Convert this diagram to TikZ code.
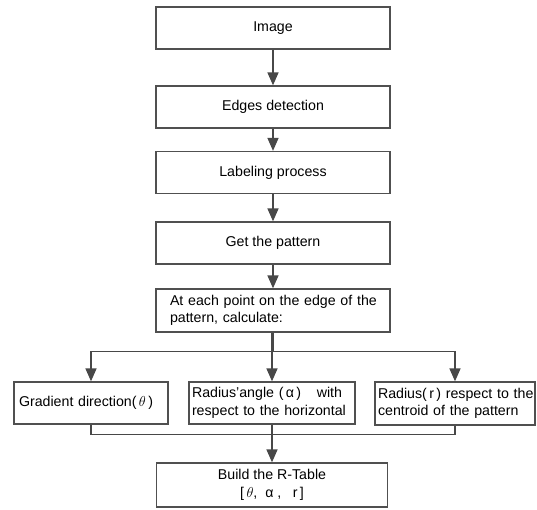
\documentclass[tikz,border=0pt]{standalone}
\usepackage{fontspec}
\setmainfont{Liberation Sans}
\usetikzlibrary{arrows.meta}
\definecolor{linegray}{HTML}{484848}
\definecolor{boxgray}{HTML}{505050}
\begin{document}
\begin{tikzpicture}[x=1pt,y=-1pt,
  box/.style={draw=boxgray,line width=1.3pt,fill=white,inner sep=0pt,
    font=\fontsize{14.2}{17.5}\selectfont},
  lbox/.style={box,align=left},
  arr/.style={draw=linegray,line width=1.5pt,-{Triangle[width=11pt,length=13pt]}},
  ln/.style={draw=linegray,line width=1.5pt}]
\useasboundingbox[fill=white] (0,0) rectangle (537,510);

\node[box,minimum width=234pt,minimum height=42pt] (img) at (273,28) {Image};
\node[box,minimum width=234pt,minimum height=42pt] (edges) at (273,107) {Edges detection};
\node[box,minimum width=234pt,minimum height=42pt] (lab) at (273,172.5) {Labeling process};
\node[box,minimum width=234pt,minimum height=42pt] (get) at (273,243) {Get the pattern};
\node[lbox,minimum width=234pt,minimum height=43pt,text width=206pt] (each) at (273,310.5)
  {\mbox{At each point on the edge of the}\\\mbox{pattern, calculate:}};

\node[lbox,minimum width=154pt,minimum height=42pt,text width=144pt] (grad) at (91,403)
  {\mbox{Gradient direction(\,$\theta$\,)}};
\node[lbox,minimum width=166pt,minimum height=42pt,text width=160pt] (mid) at (272,403)
  {\mbox{Radius'angle (\,α\,)\hspace{1.1em}with}\\\mbox{respect to the horizontal}};
\node[lbox,minimum width=160pt,minimum height=43pt,text width=154pt] (rc) at (455,403.5)
  {\mbox{Radius(\,r\,) respect to the}\\\mbox{centroid of the pattern}};

\node[box,minimum width=231pt,minimum height=44pt,align=center] (build) at (272,485)
  {Build the R-Table\\{}[\,$\theta$,\; α ,\hspace{0.8em}r\,]};

\draw[arr] (img) -- (edges);
\draw[arr] (edges) -- (lab);
\draw[arr] (lab) -- (get);
\draw[arr] (get) -- (each);

\draw[arr] (each.south) -- ++(0,19) -| (grad.north);
\draw[arr] (each.south) -- ++(0,19) -| (rc.north);
\draw[arr] (each.south -| mid.north) -- (mid.north);

\draw[ln] (grad.south) -- ++(0,10) -| (rc.south);
\draw[arr] (mid.south) -- (build.north);
\end{tikzpicture}
\end{document}
